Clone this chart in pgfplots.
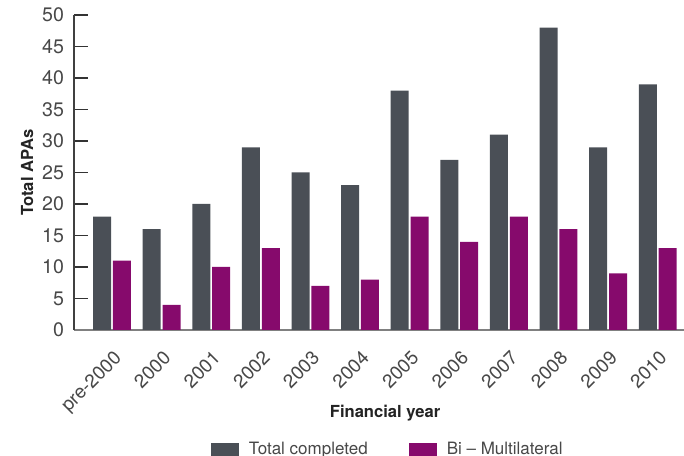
\documentclass[border=0pt]{standalone}
\usepackage{fontspec}
\setmainfont{TeX Gyre Heros}
\usepackage{pgfplots}
\pgfplotsset{compat=1.18}

\definecolor{barDark}{RGB}{74,79,86}
\definecolor{barPurple}{RGB}{134,10,108}
\definecolor{tickText}{RGB}{72,72,72}
\definecolor{labelText}{RGB}{35,35,35}
\definecolor{axisGray}{RGB}{128,128,128}

\begin{document}
\begin{tikzpicture}
\begin{axis}[
  scale only axis,
  width=305pt, height=157.5pt,
  ybar,
  bar width=0.363,
  xmin=-0.766, xmax=11.53,
  ymin=0, ymax=50,
  ytick={0,5,...,50},
  xtick={0,...,11},
  xticklabels={pre-2000,2000,2001,2002,2003,2004,2005,2006,2007,2008,2009,2010},
  axis x line*=bottom,
  axis y line*=left,
  x axis line style={axisGray, line width=0.8pt, -},
  y axis line style={black!75, line width=0.6pt, -},
  tick align=inside,
  major tick length=7pt,
  ytick style={black!80, line width=0.6pt},
  xtick style={draw=none},
  ticklabel style={font=\fontsize{9.8}{11}\selectfont, text=tickText},
  /pgf/number format/assume math mode=true,
  yticklabel style={xshift=-1.5pt},
  xticklabel style={font=\fontsize{9.5}{11}\selectfont, rotate=45, anchor=north east, inner sep=1pt, xshift=-5.5pt, yshift=-6pt},
  xlabel={\textbf{Financial year}},
  ylabel={\textbf{Total APAs}},
  label style={font=\fontsize{8.3}{10}\selectfont, text=labelText},
  xlabel style={at={(axis description cs:0.51,-0.265)}, anchor=center},
  ylabel style={at={(axis description cs:-0.077,0.5)}, anchor=center},
  legend columns=2,
  legend style={
    at={(0.516,-0.381)}, anchor=center, draw=none,
    font=\fontsize{8.5}{10}\selectfont, text=tickText,
    /tikz/every odd column/.append style={column sep=3pt},
    /tikz/every even column/.append style={column sep=18.5pt}
  },
  legend image code/.code={\path[#1, draw=none] (0pt,-3.5pt) rectangle (14pt,3.5pt);},
]
\addplot[fill=barDark, draw=none, bar shift=-0.2] coordinates {
  (0,18) (1,16) (2,20) (3,29) (4,25) (5,23)
  (6,38) (7,27) (8,31) (9,48) (10,29) (11,39)
};
\addlegendentry{Total completed}
\addplot[fill=barPurple, draw=none, bar shift=0.2] coordinates {
  (0,11) (1,4) (2,10) (3,13) (4,7) (5,8)
  (6,18) (7,14) (8,18) (9,16) (10,9) (11,13)
};
\addlegendentry{Bi -- Multilateral}
\coordinate (SW) at (rel axis cs:0,0);
\coordinate (NE) at (rel axis cs:1,1);
\end{axis}
\pgfresetboundingbox
\path[use as bounding box] ([xshift=-37pt,yshift=-63pt]SW) rectangle ([yshift=7.5pt]NE);
\end{tikzpicture}
\end{document}
